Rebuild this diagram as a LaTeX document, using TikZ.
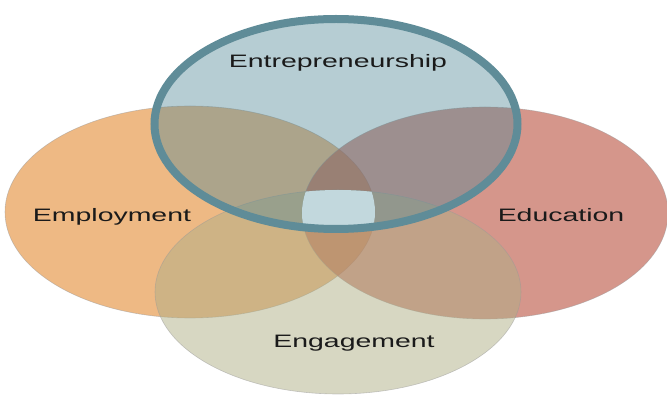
\documentclass[tikz,border=0pt]{standalone}
\usepackage{fontspec}
\setmainfont{Liberation Sans}
\usepackage{tikz}
\usetikzlibrary{positioning}

\definecolor{empcol}{HTML}{EEB984}
\definecolor{educol}{HTML}{BB5544}
\definecolor{engcol}{HTML}{AFAF86}
\definecolor{entcol}{HTML}{518896}
\definecolor{ringcol}{HTML}{5F8C98}
\definecolor{midcol}{HTML}{C2D8DD}
\definecolor{txtcol}{HTML}{1A1A1A}

\tikzset{
  set/.style={draw=black!40, draw opacity=0.5, line width=0.6pt},
  label/.style={font=\fontsize{18}{20}\selectfont, text=txtcol, xscale=1.58, anchor=base, inner sep=0pt}
}

\begin{document}
\begin{tikzpicture}[x=1pt,y=-1pt]
    \useasboundingbox (0,0) rectangle (667,403);

    % the four sets
    \path[set, fill=empcol]                     (190,212) ellipse [x radius=185, y radius=106];
    \path[set, fill=educol, fill opacity=0.62]  (485,213) ellipse [x radius=183, y radius=106];
    \path[set, fill=engcol, fill opacity=0.5]   (338,292) ellipse [x radius=183, y radius=102];
    \path[fill=entcol, fill opacity=0.42]       (336,124) ellipse [x radius=181.5, y radius=105];

    % centre where all four meet
    \begin{scope}
        \clip (190,212) ellipse [x radius=185, y radius=106];
        \clip (485,213) ellipse [x radius=183, y radius=106];
        \clip (338,292) ellipse [x radius=183, y radius=102];
        \fill[midcol] (336,124) ellipse [x radius=181.5, y radius=105];
    \end{scope}

    \draw[ringcol, line width=8pt] (336,124) ellipse [x radius=181.5, y radius=105];

    % labels
    \node[label] (ent) at (338,68)  {Entrepreneurship};
    \node[label] (emp) at (112,222) {Employment};
    \node[label] (edu) at (561,222) {Education};
    \node[label] (eng) at (354,348) {Engagement};
\end{tikzpicture}
\end{document}
